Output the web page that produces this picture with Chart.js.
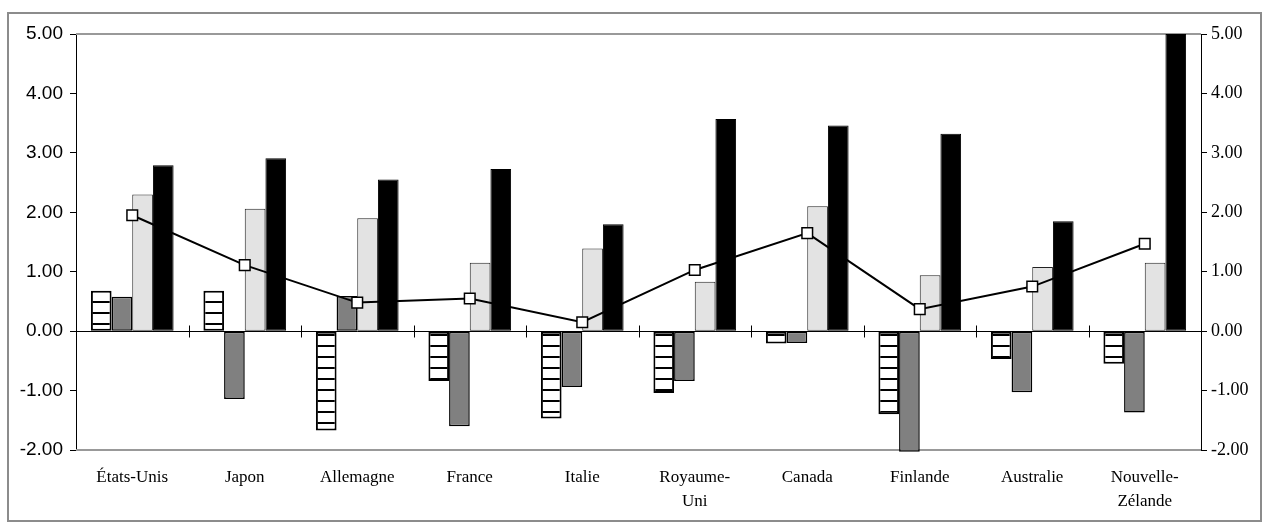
<!DOCTYPE html>
<html>
<head>
<meta charset="utf-8">
<script src="https://cdn.jsdelivr.net/npm/chart.js@4/dist/chart.umd.min.js"></script>
<style>
  html, body { margin: 0; padding: 0; background: #fff; }
  #wrap { width: 1264px; height: 522px; position: relative; }
</style>
</head>
<body>
<div id="wrap"><canvas id="c" width="1264" height="522"></canvas></div>
<script>
// Categories and series values
const categories = ['États-Unis', 'Japon', 'Allemagne', 'France', 'Italie',
  ['Royaume-', 'Uni'], 'Canada', 'Finlande', 'Australie', ['Nouvelle-', 'Zélande']];
const seriesStriped = [0.68, 0.68, -1.67, -0.84, -1.47, -1.04, -0.21, -1.40, -0.47, -0.55];
const seriesGray    = [0.58, -1.14, 0.59, -1.60, -0.94, -0.84, -0.20, -2.03, -1.03, -1.37];
const seriesLight   = [2.30, 2.06, 1.90, 1.15, 1.39, 0.83, 2.10, 0.94, 1.08, 1.15];
const seriesBlack   = [2.79, 2.91, 2.55, 2.73, 1.80, 3.57, 3.46, 3.32, 1.85, 5.00];
const seriesLine    = [1.95, 1.11, 0.48, 0.55, 0.15, 1.03, 1.65, 0.37, 0.75, 1.47];
const yTicks = [-2, -1, 0, 1, 2, 3, 4, 5];

const canvas = document.getElementById('c');
const ctx = canvas.getContext('2d');

// Horizontal stripe fill: white with black bands every 11px
const tile = document.createElement('canvas');
tile.width = 8; tile.height = 11;
const tctx = tile.getContext('2d');
tctx.fillStyle = '#fff'; tctx.fillRect(0, 0, 8, 11);
tctx.fillStyle = '#000'; tctx.fillRect(0, 4, 8, 2);
const stripes = ctx.createPattern(tile, 'repeat');

// Frame, plot borders and the zero line with category ticks
const decor = {
  id: 'decor',
  beforeDraw(chart) {
    const c = chart.ctx;
    c.save();
    c.strokeStyle = '#8c8c8c';
    c.lineWidth = 2;
    c.strokeRect(8, 13, 1253, 508);
    c.restore();
  },
  beforeDatasetsDraw(chart) {
    const { ctx: c, chartArea: a, scales } = chart;
    const y0 = Math.round(scales.y.getPixelForValue(0)) + 0.5;
    c.save();
    c.strokeStyle = '#999';
    c.lineWidth = 2;
    c.beginPath();
    c.moveTo(a.left, a.top); c.lineTo(a.right, a.top);
    c.moveTo(a.left, a.bottom); c.lineTo(a.right, a.bottom);
    c.stroke();
    c.strokeStyle = '#000';
    c.lineWidth = 1;
    c.beginPath();
    c.moveTo(a.left, y0); c.lineTo(a.right, y0);
    const xs = scales.x;
    for (let i = 0; i < categories.length - 1; i++) {
      const bx = Math.round((xs.getPixelForTick(i) + xs.getPixelForTick(i + 1)) / 2) + 0.5;
      c.moveTo(bx, y0 - 6); c.lineTo(bx, y0 + 6);
    }
    c.stroke();
    c.restore();
  }
};

const barCommon = {
  type: 'bar',
  borderColor: '#000',
  borderWidth: 1,
  borderSkipped: false,
  categoryPercentage: 0.735,
  barPercentage: 1.0,
  clip: 4,
  order: 1,
  yAxisID: 'y'
};

new Chart(ctx, {
  data: {
    labels: categories,
    datasets: [
      {
        type: 'line', label: 'Ligne', data: seriesLine, order: 0, yAxisID: 'y',
        borderColor: '#000', borderWidth: 2, tension: 0,
        pointStyle: 'rect', pointRadius: 7.5, pointHoverRadius: 7.5,
        pointBackgroundColor: '#fff', pointBorderColor: '#000', pointBorderWidth: 1.5
      },
      Object.assign({ label: 'A', data: seriesStriped, backgroundColor: stripes }, barCommon, { borderWidth: 2 }),
      Object.assign({ label: 'B', data: seriesGray, backgroundColor: '#808080' }, barCommon, { borderWidth: 1.5 }),
      Object.assign({ label: 'C', data: seriesLight, backgroundColor: '#e3e3e3' }, barCommon, { borderColor: '#222' }),
      Object.assign({ label: 'D', data: seriesBlack, backgroundColor: '#000' }, barCommon)
    ]
  },
  options: {
    responsive: false,
    animation: false,
    events: [],
    layout: { padding: { top: 34, left: 0, right: 0, bottom: 0 } },
    plugins: { legend: { display: false }, title: { display: false }, tooltip: { enabled: false } },
    scales: {
      x: {
        type: 'category',
        offset: true,
        grid: { display: false, drawTicks: false },
        border: { display: false },
        ticks: {
          color: '#000', padding: 16, maxRotation: 0, autoSkip: false,
          font: { family: 'Liberation Serif', size: 17, lineHeight: 1.4 }
        },
        afterFit(s) { s.height = 72; }
      },
      y: {
        position: 'left',
        min: -2, max: 5,
        afterBuildTicks(s) { s.ticks = yTicks.map(v => ({ value: v })); },
        grid: { drawOnChartArea: false, drawTicks: true, tickLength: 6, color: '#000' },
        border: { display: true, color: '#000', width: 1 },
        ticks: {
          color: '#000', padding: 7,
          font: { family: 'Liberation Sans', size: 19 },
          callback: v => v.toFixed(2)
        },
        afterFit(s) { s.width = 76; }
      },
      y2: {
        position: 'right',
        min: -2, max: 5,
        afterBuildTicks(s) { s.ticks = yTicks.map(v => ({ value: v })); },
        grid: { drawOnChartArea: false, drawTicks: true, tickLength: 6, color: '#000' },
        border: { display: true, color: '#000', width: 1 },
        ticks: {
          color: '#000', padding: 4,
          font: { family: 'Liberation Serif', size: 18 },
          callback: v => v.toFixed(2)
        },
        afterFit(s) { s.width = 63; }
      }
    }
  },
  plugins: [decor]
});
</script>
</body>
</html>
